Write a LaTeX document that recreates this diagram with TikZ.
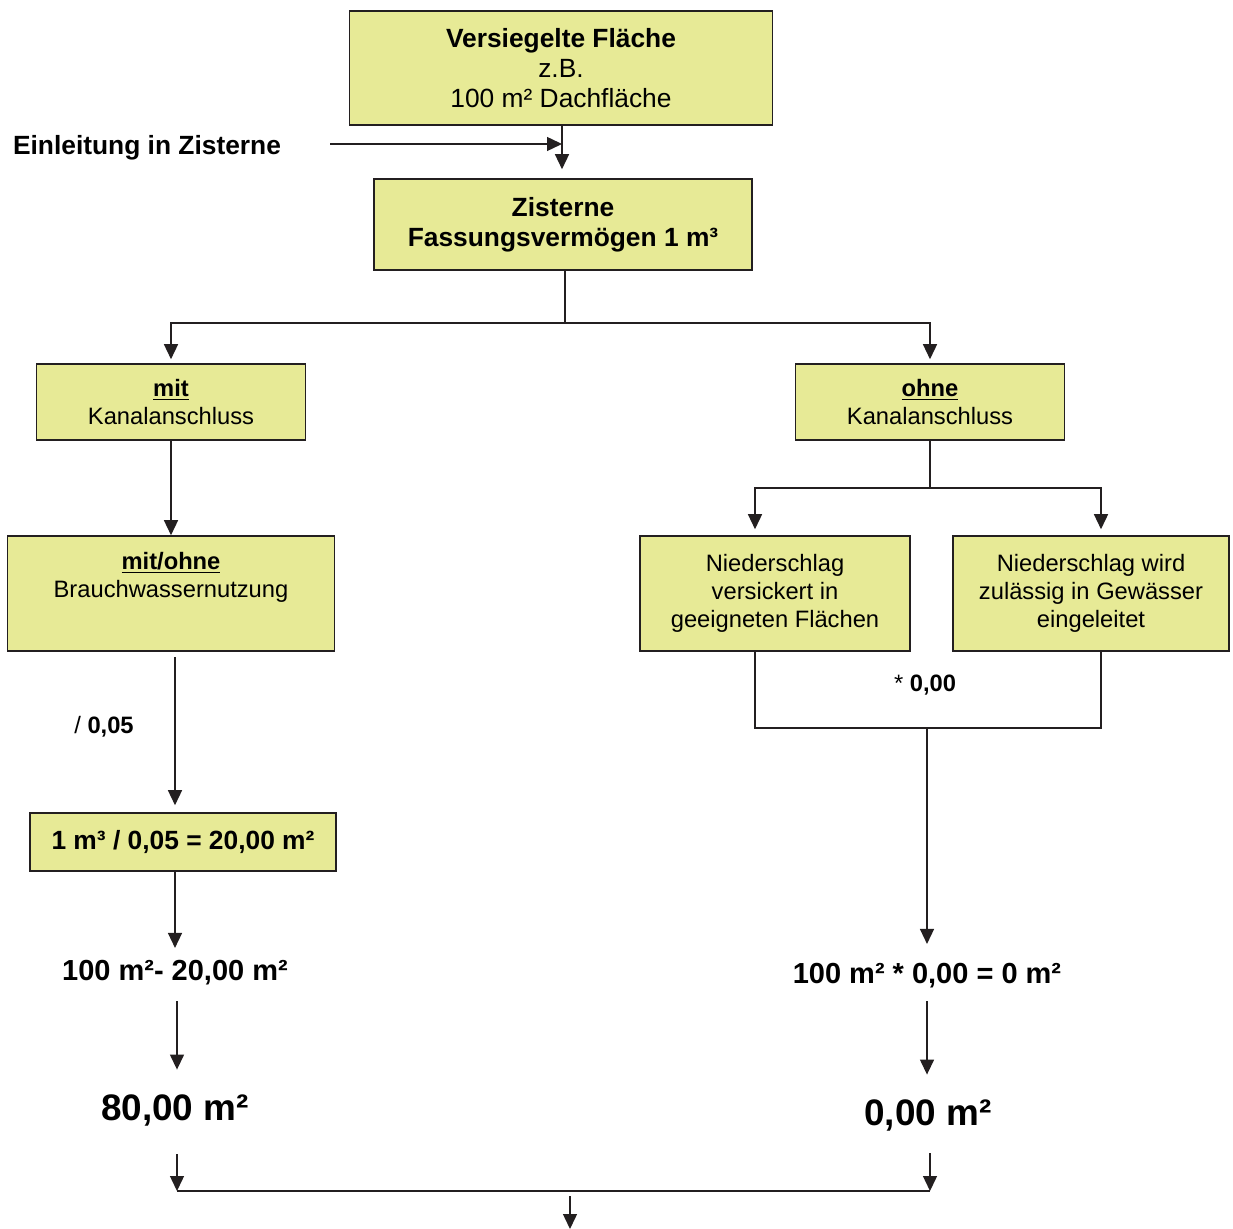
\documentclass[tikz,border=0pt]{standalone}
\usepackage{fontspec}
\setmainfont{Liberation Sans}
\usepackage{xcolor}
\usetikzlibrary{arrows.meta, positioning, calc}
\definecolor{gelb}{RGB}{231,234,150}
\definecolor{rand}{RGB}{35,31,32}
\tikzset{
    block/.style={
        rectangle,
        draw=rand,
        fill=gelb,
        line width=0.9pt,
        align=center,
        inner sep=0pt,
        font=\fontsize{13.5}{16}\selectfont,
    },
    wert/.style={
        inner sep=0pt,
        font=\bfseries\fontsize{16.5}{19}\selectfont,
    },
}

\begin{document}
\begin{tikzpicture}[x=0.02cm, y=-0.02cm, >={Triangle[length=0.3cm,width=0.28cm]}, color=rand, text=black, line width=0.8pt]
      \useasboundingbox (0,0) rectangle (1233,1229);

      \node [block, minimum width=8.46cm, minimum height=2.28cm, font=\fontsize{15}{17}\selectfont] (Flaeche) at (561,68) {\textbf{Versiegelte Fläche}\\z.B.\\100 m² Dachfläche};
      \node [block, minimum width=7.56cm, minimum height=1.82cm, font=\bfseries\fontsize{15}{17}\selectfont] (Zisterne) at (563,224.5) {Zisterne\\Fassungsvermögen 1 m³};
      \node [block, minimum width=5.38cm, minimum height=1.52cm] (MitKanal) at (171,402) {\textbf{\underline{mit}}\\Kanalanschluss};
      \node [block, minimum width=5.38cm, minimum height=1.52cm] (OhneKanal) at (930,402) {\textbf{\underline{ohne}}\\Kanalanschluss};
      \node [block, minimum width=6.54cm, minimum height=2.3cm] (Brauch) at (171,593.5) {\textbf{\underline{mit/ohne}}\\Brauchwassernutzung\\\strut};
      \node [block, minimum width=5.4cm, minimum height=2.3cm] (Versickert) at (775,593.5) {Niederschlag\\versickert in\\geeigneten Flächen};
      \node [block, minimum width=5.52cm, minimum height=2.3cm] (Gewaesser) at (1091,593.5) {Niederschlag wird\\zulässig in Gewässer\\eingeleitet};
      \node [block, minimum width=6.12cm, minimum height=1.16cm, font=\bfseries\fontsize{15}{17}\selectfont] (Rechnung) at (183,842) {1 m³ / 0,05 = 20,00 m²};

      \node [wert, font=\bfseries\fontsize{15}{17}\selectfont] (Einleitung) at (147,148) {Einleitung in Zisterne};
      \node [wert, font=\fontsize{13.5}{16}\selectfont] (Teiler) at (104,727) {/ \textbf{0,05}};
      \node [wert, font=\fontsize{13.5}{16}\selectfont] (Faktor) at (925,685) {* \textbf{0,00}};
      \node [wert] (DiffMit) at (175,973) {100 m²- 20,00 m²};
      \node [wert, font=\bfseries\fontsize{21}{25}\selectfont] (ErgMit) at (175,1110) {80,00 m²};
      \node [wert] (ProdOhne) at (927,976) {100 m² * 0,00 = 0 m²};
      \node [wert, font=\bfseries\fontsize{21}{25}\selectfont] (ErgOhne) at (928,1115) {0,00 m²};

      \coordinate (left-Einleitung) at (330,144);
      \coordinate (right-Einleitung) at (562,144);
      \coordinate (Verteilung) at (565,323);
      \coordinate (Abzweig) at (930,488);
      \coordinate (left-Sammel) at (755,728);
      \coordinate (right-Sammel) at (1101,728);
      \coordinate (Sammel) at (927,728);
      \coordinate (left-Summe) at (177,1191);
      \coordinate (right-Summe) at (930,1191);
      \coordinate (Summe) at (570,1191);
      \coordinate (Ende) at (570,1229);

      % oben
      \draw[->] (left-Einleitung) -- (right-Einleitung);
      \draw[->, shorten >=0.18cm] (Flaeche.south -| right-Einleitung) -- (Zisterne.north -| right-Einleitung);
      \draw (Zisterne.south -| Verteilung) -- (Verteilung);
      \draw[->, shorten >=0.08cm] (Verteilung) -| (MitKanal);
      \draw[->, shorten >=0.08cm] (Verteilung) -| (OhneKanal);

      % links
      \path[->] (MitKanal) edge (Brauch);
      \draw[->, shorten <=0.1cm, shorten >=0.14cm] (Brauch.south -| DiffMit) -- (Rechnung.north -| DiffMit);
      \draw[->, shorten >=0.24cm] (Rechnung.south -| DiffMit) -- (DiffMit);
      \draw[->, shorten <=0.3cm, shorten >=0.48cm] (DiffMit.south -| left-Summe) -- (ErgMit.north -| left-Summe);
      \draw[->, shorten <=0.56cm] (ErgMit.south -| left-Summe) -- (left-Summe);

      % rechts
      \draw (OhneKanal) -- (Abzweig);
      \draw[->, shorten >=0.12cm] (Abzweig) -| (Versickert.north -| left-Sammel);
      \draw[->, shorten >=0.12cm] (Abzweig) -| (Gewaesser.north -| right-Sammel);
      \draw (Versickert.south -| left-Sammel) -- (left-Sammel) -- (right-Sammel) -- (Gewaesser.south -| right-Sammel);
      \draw[->, shorten >=0.38cm] (Sammel) -- (ProdOhne);
      \draw[->, shorten <=0.24cm, shorten >=0.48cm] (ProdOhne.south -| Sammel) -- (ErgOhne.north -| Sammel);
      \draw[->, shorten <=0.44cm] (ErgOhne.south -| right-Summe) -- (right-Summe);

      % unten
      \draw[line width=1.2pt] (left-Summe) -- (right-Summe);
      \draw[->, shorten <=0.1cm] (Summe) -- (Ende);
    \end{tikzpicture}
\end{document}
